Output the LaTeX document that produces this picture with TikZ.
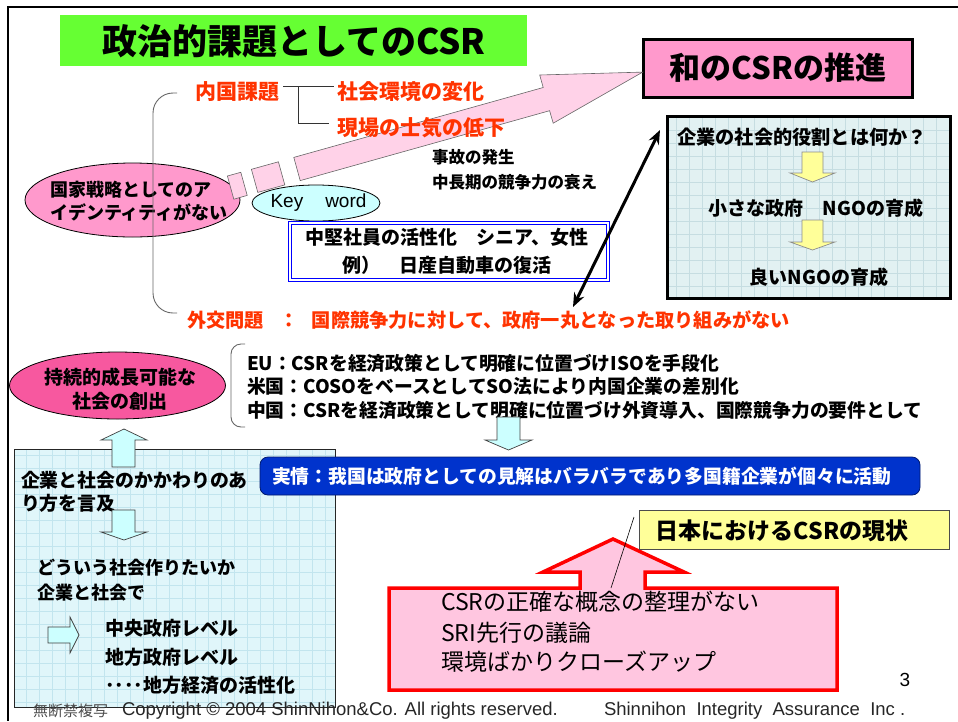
\documentclass[tikz,border=0pt]{standalone}
\usepackage{fontspec}
\setmainfont{Noto Sans CJK JP}
\newfontfamily\lsans{Liberation Sans}
\usetikzlibrary{shapes.geometric,arrows.meta}
\definecolor{titlegreen}{HTML}{66FF33}
\definecolor{pinkbox}{HTML}{FF99CC}
\definecolor{redtxt}{HTML}{FF3300}
\definecolor{keycyan}{HTML}{CCFFFF}
\definecolor{rbox}{HTML}{E2F1F2}
\definecolor{rgrid}{HTML}{C6DDE1}
\definecolor{lbox}{HTML}{E0F6FA}
\definecolor{lgrid}{HTML}{C2E5EE}
\definecolor{arrowpink}{HTML}{FFD2E8}
\definecolor{bigpink}{HTML}{FFC6E0}
\definecolor{yarrow}{HTML}{FFFF99}
\definecolor{bluebox}{HTML}{0033CC}
\definecolor{hotpink}{HTML}{F7589F}
\newcommand{\myfs}[1]{\fontsize{#1}{#1}\selectfont}
\tikzset{
  txt/.style={inner sep=0pt, outer sep=0pt},
  redt/.style={txt, text=redtxt, font=\bfseries\myfs{21}},
  blk/.style={txt, font=\bfseries\myfs{19}},
  cyanarrow/.style={fill=keycyan, draw=black!75, line width=0.7pt, line join=miter},
  yelarrow/.style={fill=yarrow, draw=black!45, line width=0.7pt, line join=miter},
  brk/.style={draw=black!60, line width=0.9pt, rounded corners=20pt},
}
\begin{document}
\begin{tikzpicture}[x=1pt,y=-1pt]
\useasboundingbox (0,0) rectangle (958,721);
% frame
\draw[line width=2.5pt] (958,7) -- (8,7) -- (8,721);

% title
\node[txt, fill=titlegreen, minimum width=467pt, minimum height=51pt] (title) at (293.5,40.5) {};
\node[txt, font=\bfseries\myfs{35}] (titlet) at (294,41) {政治的課題としてのCSR};

% wa no CSR box
\node[txt, draw=black, line width=3pt, fill=pinkbox, minimum width=269pt, minimum height=58pt] (wa) at (777.5,68) {};
\node[txt, font=\bfseries\myfs{31}] (wat) at (778,68) {和のCSRの推進};

% ellipse 1
\node[ellipse, draw=black, line width=0.8pt, fill=pinkbox, minimum width=215pt, minimum height=74pt, inner sep=0pt] (e1) at (132.5,200) {};

% big pink arrow (broken shaft)
\draw[fill=arrowpink, draw=black!60, line width=0.6pt, line join=miter]
  (293.8,157.4) -- (543.2,87.5) -- (539.7,75.0) -- (642.7,72.1) -- (553.2,123.2) -- (549.6,110.7) -- (300.2,180.6) -- cycle;
\draw[fill=arrowpink, draw=black!60, line width=0.6pt]
  (251.4,169.3) -- (278.4,161.8) -- (284.8,184.9) -- (257.8,192.4) -- cycle;
\draw[fill=arrowpink, draw=black!60, line width=0.6pt]
  (227.4,176.0) -- (240.8,172.3) -- (247.2,195.4) -- (233.8,199.2) -- cycle;

\node[txt, anchor=west, align=left, font=\bfseries\fontsize{18}{23}\selectfont] (e1t) at (50,201.5) {国家戦略としてのア\\イデンティティがない};

% bracket
\draw[brk] (177,93) -- (153,93) -- (153,313) -- (177,313);

% domestic issues
\node[redt, anchor=west] (naikoku) at (195,91.5) {内国課題};
\node[redt, anchor=west] (shakai) at (337,91.5) {社会環境の変化};
\node[redt, anchor=west] (genba) at (337,128) {現場の士気の低下};
\coordinate (nk1) at (283,86);
\coordinate (nk2) at (334,86);
\coordinate (nk3) at (298,86);
\coordinate (nk4) at (329,123);
\draw[black!80, line width=0.7pt] (nk1) -- (nk2);
\draw[black!80, line width=0.7pt] (nk3) |- (nk4);

\node[txt, anchor=west, font=\bfseries\myfs{16.5}] (jiko) at (432,157) {事故の発生};
\node[txt, anchor=west, font=\bfseries\myfs{16.5}] (chouki) at (432,182) {中長期の競争力の衰え};

% key word
\node[ellipse, draw=black, line width=0.8pt, fill=keycyan, minimum width=128pt, minimum height=36pt, inner sep=0pt] (kw) at (316,203) {};
\node[txt, font=\lsans\myfs{19}] (kwt) at (318.5,203) {Key\hspace{22pt}word};

% keyword box
\node[txt, draw=blue, line width=0.8pt, double=white, double distance=1.6pt, fill=white, minimum width=318pt, minimum height=57pt] (kbox) at (449,251.5) {};
\node[txt, align=center, font=\bfseries\fontsize{19}{28}\selectfont] (kboxt) at (447,251) {中堅社員の活性化　シニア、女性\\例）　日産自動車の復活};

% foreign issue line
\node[txt, anchor=west, text=redtxt, font=\bfseries\myfs{19.2}] (gaiko) at (187,320) {外交問題\hspace{16pt}：\hspace{13pt}国際競争力に対して、政府一丸となった取り組みがない};

% right box
\begin{scope}
\clip (667,116) rectangle (950,298);
\fill[rbox] (667,116) rectangle (950,298);
\draw[rgrid, line width=0.4pt] (667,298) grid[step=13pt] (950,116);
\end{scope}
\node[txt, draw=black, line width=3pt, minimum width=283pt, minimum height=182pt] (rb) at (808.5,207) {};
\node[blk, font=\bfseries\myfs{19.2}] (q1) at (802,137) {企業の社会的役割とは何か？};
\node[blk] (q2) at (816,208) {小さな政府　NGOの育成};
\node[blk] (q3) at (819,277) {良いNGOの育成};
\draw[yelarrow] (802,152) -- (823,152) -- (823,173) -- (835,173) -- (812.5,182) -- (790,173) -- (802,173) -- cycle;
\draw[yelarrow] (802,220) -- (823,220) -- (823,242) -- (835,242) -- (812.5,250) -- (790,242) -- (802,242) -- cycle;

% double headed arrow
\coordinate (da1) at (573,307);
\coordinate (da2) at (660,130);
\draw[line width=3pt, {Stealth[length=14pt,width=11pt]}-{Stealth[length=14pt,width=11pt]}] (da1) -- (da2);

% sustainable ellipse
\node[ellipse, draw=black, line width=0.8pt, fill=hotpink, minimum width=216pt, minimum height=67pt, inner sep=0pt] (e2) at (117.5,385.5) {};
\node[txt, align=center, font=\bfseries\fontsize{19}{24}\selectfont] (e2t) at (120,389) {持続的成長可能な\\社会の創出};

% EU / US / China
\draw[brk, rounded corners=10pt] (245,344) -- (231,344) -- (231,427) -- (245,427);
\node[txt, anchor=west, align=left, font=\bfseries\fontsize{18.8}{23.5}\selectfont] (eu) at (247,386.5) {EU：CSRを経済政策として明確に位置づけISOを手段化\\米国：COSOをベースとしてSO法により内国企業の差別化\\中国：CSRを経済政策として明確に位置づけ外資導入、国際競争力の要件として};

% left box
\begin{scope}
\clip (14,449) rectangle (335,707);
\fill[lbox] (14,449) rectangle (335,707);
\draw[lgrid, line width=0.4pt] (14,707) grid[step=13pt] (335,449);
\end{scope}
\node[txt, draw=black!85, line width=0.8pt, minimum width=321pt, minimum height=258pt] (lb) at (174.5,578) {};
\draw[cyanarrow] (112,467) -- (112,440) -- (101,440) -- (124,429) -- (147,440) -- (135,440) -- (135,467) -- cycle;
\node[txt, anchor=west, align=left, font=\bfseries\fontsize{18.9}{23}\selectfont] (l1) at (21,491.5) {企業と社会のかかわりのあ\\り方を言及};
\draw[cyanarrow] (112,510) -- (135,510) -- (135,532) -- (147,532) -- (124,540) -- (101,532) -- (112,532) -- cycle;
\node[txt, anchor=west, align=left, font=\bfseries\fontsize{18}{25}\selectfont] (l2) at (37,580.5) {どういう社会作りたいか\\企業と社会で};
\draw[cyanarrow] (48,627) -- (70,627) -- (70,617) -- (79,635) -- (70,653) -- (70,643) -- (48,643) -- cycle;
\node[blk, anchor=west] (l3) at (105,628) {中央政府レベル};
\node[blk, anchor=west] (l4) at (105,657) {地方政府レベル};
\node[blk, anchor=west] (l5) at (105,685) {････地方経済の活性化};

% arrow to blue box
\draw[cyanarrow] (497,417) -- (520,417) -- (520,440) -- (532,440) -- (508.5,450) -- (485,440) -- (497,440) -- cycle;

% blue box
\node[txt, fill=bluebox, draw={rgb,255:red,0;green,25;blue,110}, line width=0.8pt, rounded corners=8pt, minimum width=660pt, minimum height=38pt] (jitsu) at (590,476) {};
\node[txt, anchor=west, text=white, font=\bfseries\myfs{18.8}] (jitsut) at (272,476) {実情：我国は政府としての見解はバラバラであり多国籍企業が個々に活動};

% big red arrow
\draw[fill=bigpink, draw=red, line width=3.5pt, line join=miter]
  (389,690) -- (837,690) -- (837,588) -- (645,588) -- (645,572) -- (684,572) -- (613,539) -- (543,572) -- (580,572) -- (580,588) -- (389,588) -- cycle;
\node[txt, anchor=west, font=\myfs{23}] (b1) at (441,602) {CSRの正確な概念の整理がない};
\node[txt, anchor=west, font=\myfs{23}] (b2) at (441,633) {SRI先行の議論};
\node[txt, anchor=west, font=\myfs{23}] (b3) at (441,662) {環境ばかりクローズアップ};

% yellow box
\node[txt, fill=yarrow, draw=black!70, line width=0.8pt, minimum width=310pt, minimum height=39pt] (jp) at (794,530) {};
\node[txt, font=\bfseries\myfs{23}] (jpt) at (782,531) {日本におけるCSRの現状};
\coordinate (cl1) at (634,517);
\coordinate (cl2) at (611,588);
\draw[black, line width=0.6pt] (cl1) -- (cl2);

% footer
\node[txt, font=\myfs{19}\lsans] (pg) at (905,680) {3};
\node[txt, anchor=west, text=black!70, font=\myfs{15}] (f1) at (33,711) {無断禁複写};
\node[txt, anchor=west, text=black!85, font=\lsans\myfs{18.5}] (f2) at (122,711) {Copyright © 2004 ShinNihon\&Co. All rights reserved.};
\node[txt, anchor=west, text=black!85, font=\lsans\myfs{18.5}] (f3) at (604,711) {Shinnihon\ \ Integrity\ \ Assurance\ \ Inc\ .};
\end{tikzpicture}
\end{document}
